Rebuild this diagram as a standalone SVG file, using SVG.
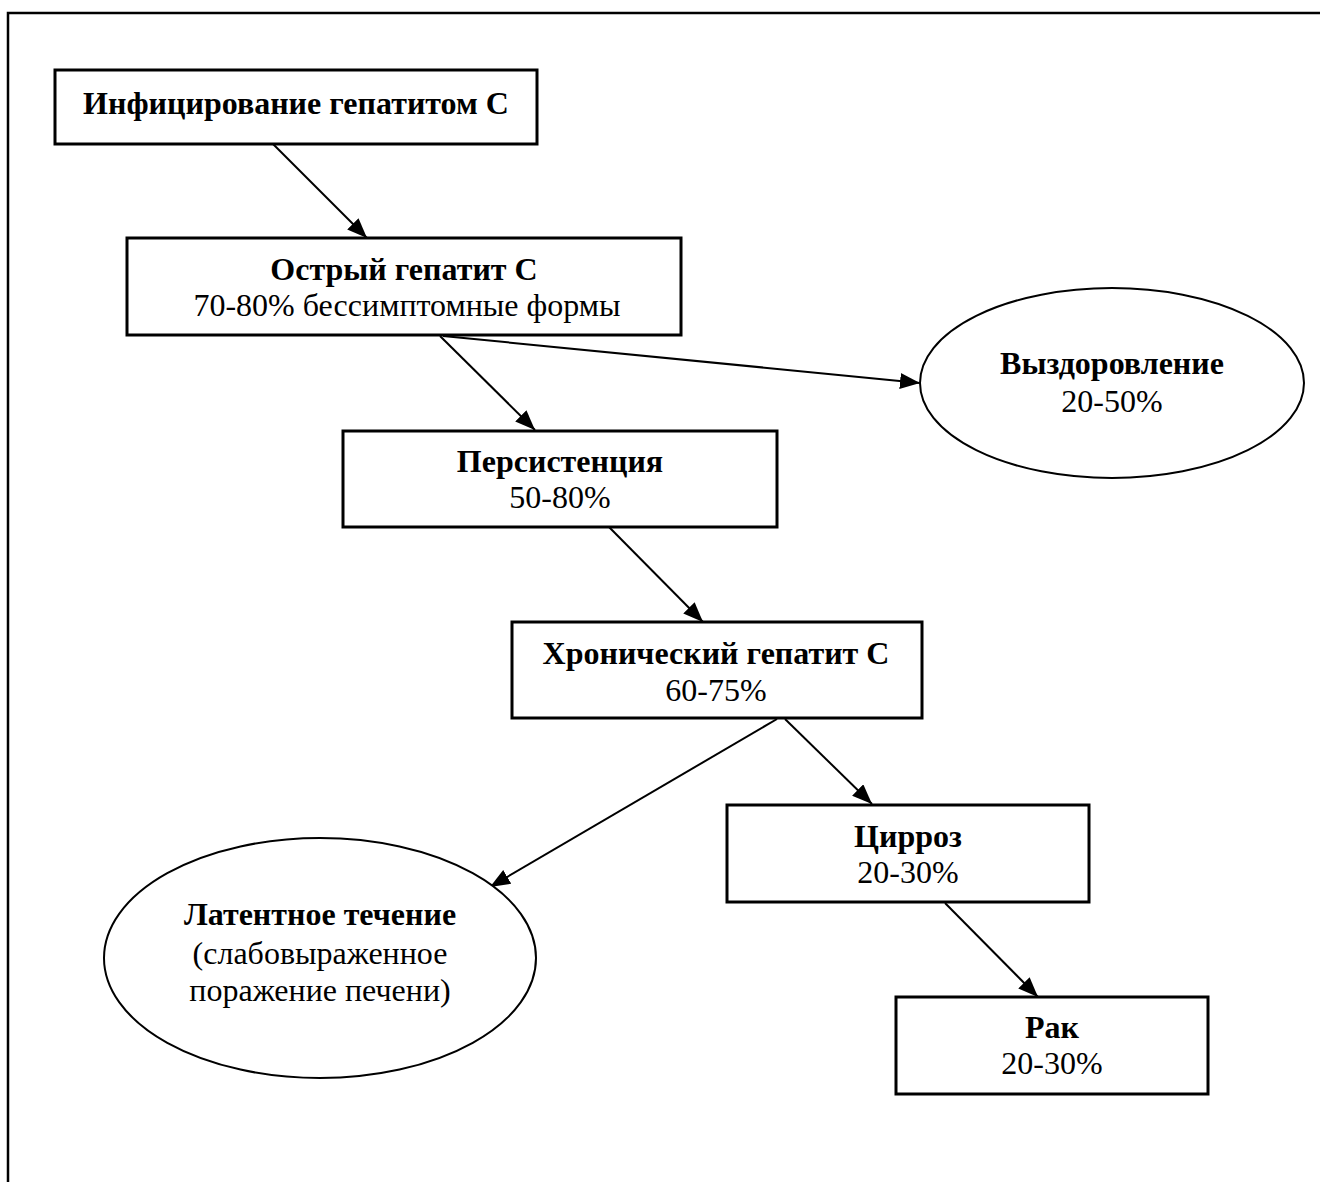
<svg xmlns="http://www.w3.org/2000/svg" width="1320" height="1182" viewBox="0 0 1320 1182">
  <style>
    .box { fill: #ffffff; stroke: #000000; stroke-width: 3; }
    .ell { fill: #ffffff; stroke: #000000; stroke-width: 2; }
    .frame { fill: none; stroke: #000000; stroke-width: 2.5; }
    .conn { stroke: #000000; stroke-width: 2; fill: none; marker-end: url(#arrow); }
    text { font-family: "Liberation Serif", "Times New Roman", serif; font-size: 32px; fill: #000000; text-anchor: middle; }
    .b { font-weight: bold; }
  </style>
  <defs>
    <marker id="arrow" markerUnits="userSpaceOnUse" markerWidth="22" markerHeight="16" refX="20" refY="8" orient="auto">
      <path d="M0,0 L20,8 L0,16 z" fill="#000000"/>
    </marker>
  </defs>
  <rect width="1320" height="1182" fill="#ffffff"/>
  <rect class="frame" x="8" y="13" width="1340" height="1200"/>

  <g id="connectors">
    <line class="conn" x1="273" y1="144" x2="367" y2="238"/>
    <line class="conn" x1="440" y1="336" x2="535" y2="430"/>
    <line class="conn" x1="443" y1="336" x2="920" y2="383"/>
    <line class="conn" x1="609" y1="527" x2="703" y2="622"/>
    <line class="conn" x1="785" y1="719" x2="872" y2="804"/>
    <line class="conn" x1="777" y1="719" x2="490" y2="887"/>
    <line class="conn" x1="945" y1="903" x2="1038" y2="997"/>
  </g>

  <g id="node-infection">
    <rect class="box" x="55" y="70" width="482" height="74"/>
    <text class="b" x="296" y="114">Инфицирование гепатитом С</text>
  </g>

  <g id="node-acute">
    <rect class="box" x="127" y="238" width="554" height="97"/>
    <text class="b" x="404" y="280">Острый гепатит С</text>
    <text x="407" y="316">70-80% бессимптомные формы</text>
  </g>

  <g id="node-recovery">
    <ellipse class="ell" cx="1112" cy="383" rx="192" ry="95"/>
    <text class="b" x="1112" y="374">Выздоровление</text>
    <text x="1112" y="412">20-50%</text>
  </g>

  <g id="node-persistence">
    <rect class="box" x="343" y="431" width="434" height="96"/>
    <text class="b" x="560" y="472">Персистенция</text>
    <text x="560" y="508">50-80%</text>
  </g>

  <g id="node-chronic">
    <rect class="box" x="512" y="622" width="410" height="96"/>
    <text class="b" x="716" y="664">Хронический гепатит С</text>
    <text x="716" y="701">60-75%</text>
  </g>

  <g id="node-latent">
    <ellipse class="ell" cx="320" cy="958" rx="216" ry="120"/>
    <text class="b" x="320" y="925">Латентное течение</text>
    <text x="320" y="964">(слабовыраженное</text>
    <text x="320" y="1001">поражение печени)</text>
  </g>

  <g id="node-cirrhosis">
    <rect class="box" x="727" y="805" width="362" height="97"/>
    <text class="b" x="908" y="847">Цирроз</text>
    <text x="908" y="883">20-30%</text>
  </g>

  <g id="node-cancer">
    <rect class="box" x="896" y="997" width="312" height="97"/>
    <text class="b" x="1052" y="1038">Рак</text>
    <text x="1052" y="1074">20-30%</text>
  </g>
</svg>
